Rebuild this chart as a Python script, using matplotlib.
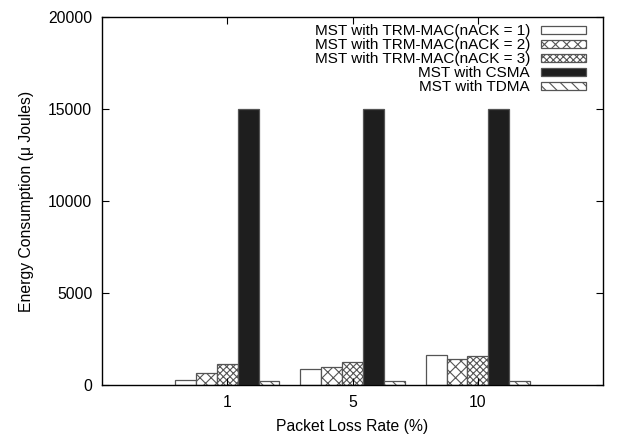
import numpy as np
import matplotlib
matplotlib.use('Agg')
import matplotlib.pyplot as plt

plt.rcParams['font.family'] = ['Liberation Sans', 'DejaVu Sans']
plt.rcParams['hatch.linewidth'] = 0.8

# data
categories = ['1', '5', '10']
series_names = ['MST with TRM-MAC(nACK = 1)', 'MST with TRM-MAC(nACK = 2)',
                'MST with TRM-MAC(nACK = 3)', 'MST with CSMA', 'MST with TDMA']
nack1 = [270, 870, 1630]
nack2 = [650, 980, 1410]
nack3 = [1140, 1250, 1570]
csma = [15000, 15000, 15000]
tdma = [200, 200, 200]

values = [nack1, nack2, nack3, csma, tdma]
colors = ['white', 'white', 'white', '#1e1e1e', 'white']
hatches = ['', 'xxx', 'xxxxx', '', '\\\\\\']

fig = plt.figure(figsize=(6.19, 4.34), dpi=100)
ax = fig.add_axes([0.1648, 0.1129, 0.8095, 0.8479])

x = np.arange(1, len(categories) + 1)
w = 1.0 / 6
for i, (name, vals) in enumerate(zip(series_names, values)):
    ax.bar(x + (i - 2) * w, vals, width=w, color=colors[i], hatch=hatches[i],
           edgecolor='#555555', linewidth=0.9, label=name)

ax.set_xlim(0, 4)
ax.set_ylim(0, 20000)
ax.set_xticks(x)
ax.set_xticklabels(categories)
ax.set_yticks([0, 5000, 10000, 15000, 20000])
ax.tick_params(direction='in', top=True, right=True, length=5, labelsize=11.3, pad=7)
for s in ax.spines.values():
    s.set_linewidth(1.0)

ax.set_xlabel('Packet Loss Rate (%)', fontsize=11.3, labelpad=7)
ax.set_ylabel('Energy Consumption (\u03bc Joules)', fontsize=11.3, labelpad=10)

ax.legend(loc='upper right', bbox_to_anchor=(0.985, 1.005), frameon=False,
          markerfirst=False, fontsize=11, handlelength=3.0, handleheight=0.5,
          labelspacing=0.0, handletextpad=0.7, borderaxespad=0.2)

plt.savefig('out.png', dpi=100)
